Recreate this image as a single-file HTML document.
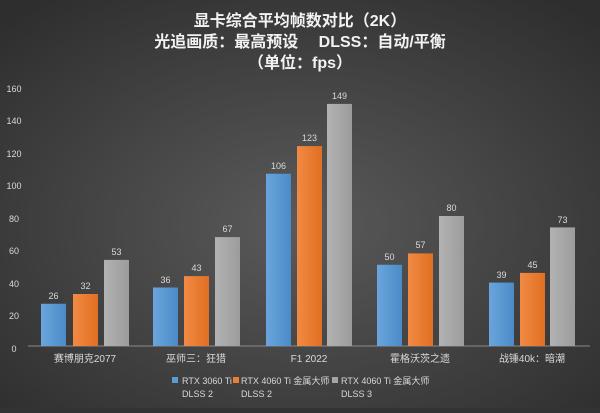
<!DOCTYPE html>
<html><head><meta charset="utf-8"><style>
body{margin:0;width:600px;height:408px;overflow:hidden;background:#333}
</style></head><body>
<svg width="600" height="408" xmlns="http://www.w3.org/2000/svg" font-family="'Liberation Sans','Noto Sans CJK SC',sans-serif">
<defs>
<radialGradient id="bg" cx="50%" cy="55%" r="70%">
<stop offset="0" stop-color="#5a5a5a"/><stop offset="1" stop-color="#2e2e2e"/></radialGradient>
<linearGradient id="b" x1="0" x2="1"><stop offset="0" stop-color="#6aa6dc"/><stop offset="1" stop-color="#4a8bc8"/></linearGradient>
<linearGradient id="o" x1="0" x2="1"><stop offset="0" stop-color="#f28a44"/><stop offset="1" stop-color="#e06f22"/></linearGradient>
<linearGradient id="g" x1="0" x2="1"><stop offset="0" stop-color="#b2b2b2"/><stop offset="1" stop-color="#9c9c9c"/></linearGradient>
</defs>
<rect width="600" height="408" fill="url(#bg)"/>
<g fill="#f2f2f2" font-weight="bold" font-size="16" text-anchor="middle">
<text x="300" y="26">显卡综合平均帧数对比（2K）</text>
<text x="300" y="47">光追画质：最高预设　 DLSS：自动/平衡</text>
<text x="300" y="68">（单位：fps）</text>
</g>
<g fill="#d9d9d9" font-size="9" text-anchor="middle">
<text x="14" y="92">160</text><text x="14" y="124">140</text><text x="14" y="157">120</text><text x="14" y="189">100</text>
<text x="14" y="222">80</text><text x="14" y="254">60</text><text x="14" y="287">40</text><text x="14" y="319">20</text><text x="14" y="352">0</text>
</g>
<line x1="28" y1="346" x2="590" y2="346" stroke="#8a8a8a" stroke-width="1"/>
<g id="bars"></g>
<g font-size="9" fill="#d9d9d9" text-anchor="middle">
<!-- group 1 -->
<rect x="41" y="303.75" width="25" height="42.25" fill="url(#b)"/><text x="53.5" y="299">26</text>
<rect x="73" y="294" width="25" height="52" fill="url(#o)"/><text x="85.5" y="289">32</text>
<rect x="104" y="259.9" width="25" height="86.1" fill="url(#g)"/><text x="116.5" y="255">53</text>
<!-- group 2 -->
<rect x="153" y="287.5" width="25" height="58.5" fill="url(#b)"/><text x="165.5" y="283">36</text>
<rect x="184" y="276.1" width="25" height="69.9" fill="url(#o)"/><text x="196.5" y="271">43</text>
<rect x="215" y="237.1" width="25" height="108.9" fill="url(#g)"/><text x="227.5" y="232">67</text>
<!-- group 3 -->
<rect x="266" y="173.75" width="25" height="172.25" fill="url(#b)"/><text x="278.5" y="169">106</text>
<rect x="297" y="146.1" width="25" height="199.9" fill="url(#o)"/><text x="309.5" y="141">123</text>
<rect x="327" y="103.9" width="25" height="242.1" fill="url(#g)"/><text x="339.5" y="99">149</text>
<!-- group 4 -->
<rect x="377" y="264.75" width="25" height="81.25" fill="url(#b)"/><text x="389.5" y="260">50</text>
<rect x="408" y="253.4" width="25" height="92.6" fill="url(#o)"/><text x="420.5" y="248">57</text>
<rect x="439" y="216" width="25" height="130" fill="url(#g)"/><text x="451.5" y="211">80</text>
<!-- group 5 -->
<rect x="489" y="282.6" width="25" height="63.4" fill="url(#b)"/><text x="501.5" y="278">39</text>
<rect x="520" y="272.9" width="25" height="73.1" fill="url(#o)"/><text x="532.5" y="268">45</text>
<rect x="550" y="227.4" width="25" height="118.6" fill="url(#g)"/><text x="562.5" y="223">73</text>
</g>
<g font-size="10" fill="#d9d9d9" text-anchor="middle">
<text x="85" y="362">赛博朋克2077</text>
<text x="196" y="362">巫师三：狂猎</text>
<text x="309" y="362">F1 2022</text>
<text x="420" y="362">霍格沃茨之遗</text>
<text x="532" y="362">战锤40k：暗潮</text>
</g>
<g font-size="9" fill="#d9d9d9">
<rect x="172" y="377" width="6" height="6" fill="#5b9bd5"/><text x="182" y="384">RTX 3060 Ti</text><text x="182" y="397">DLSS 2</text>
<rect x="233" y="377" width="6" height="6" fill="#ed7d31"/><text x="241" y="384">RTX 4060 Ti 金属大师</text><text x="241" y="397">DLSS 2</text>
<rect x="332" y="377" width="6" height="6" fill="#a5a5a5"/><text x="341" y="384">RTX 4060 Ti 金属大师</text><text x="341" y="397">DLSS 3</text>
</g>
</svg>
</body></html>
